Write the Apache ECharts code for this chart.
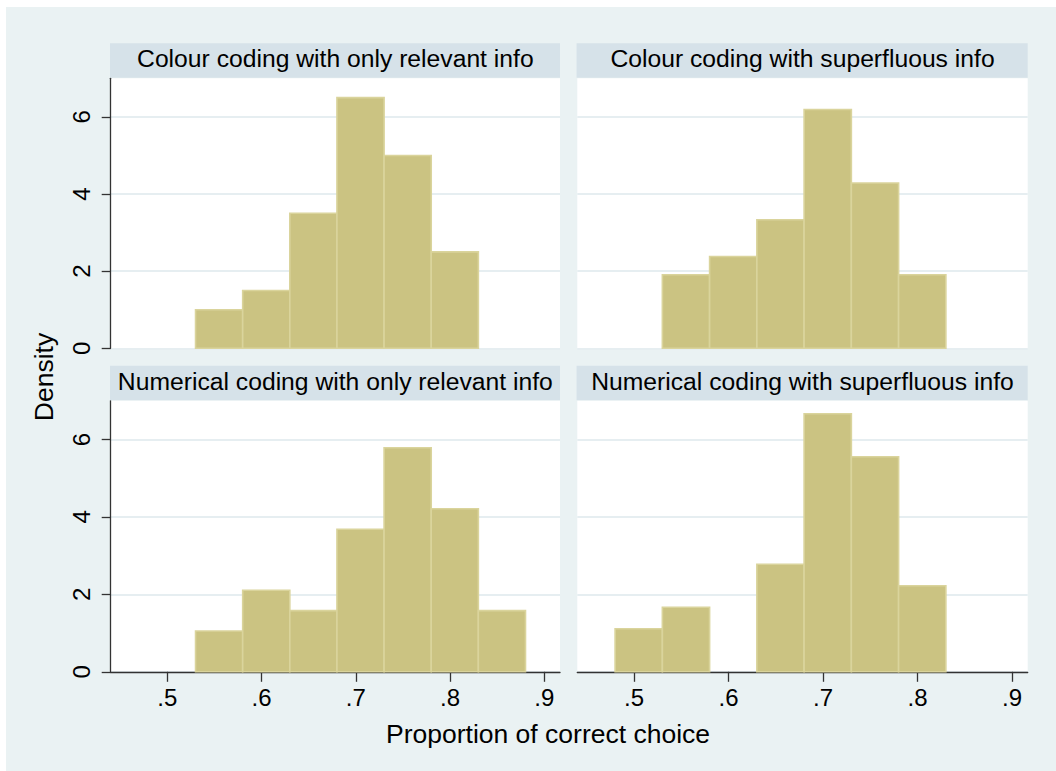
<!DOCTYPE html>
<html>
<head>
<meta charset="utf-8">
<script src="https://cdn.jsdelivr.net/npm/echarts@6/dist/echarts.min.js"></script>
<style>
  html, body { margin: 0; padding: 0; background: #fff; }
  #chart { width: 1056px; height: 771px; }
</style>
</head>
<body>
<div id="chart"></div>
<script>
// histogram data (density), bin width .05
const binWidth = 0.05;
const panelTitles = [
  "Colour coding with only relevant info",
  "Colour coding with superfluous info",
  "Numerical coding with only relevant info",
  "Numerical coding with superfluous info"
];
const binStarts = [
  [0.53, 0.58, 0.63, 0.68, 0.73, 0.78],
  [0.53, 0.58, 0.63, 0.68, 0.73, 0.78],
  [0.53, 0.58, 0.63, 0.68, 0.73, 0.78, 0.83],
  [0.48, 0.53, 0.58, 0.63, 0.68, 0.73, 0.78]
];
const densities = [
  [1.0, 1.5, 3.5, 6.5, 5.0, 2.5],
  [1.905, 2.381, 3.333, 6.19, 4.286, 1.905],
  [1.053, 2.105, 1.579, 3.684, 5.789, 4.211, 1.579],
  [1.111, 1.667, 0, 2.778, 6.667, 5.556, 2.222]
];
const xTicks = [0.5, 0.6, 0.7, 0.8, 0.9];
const yTicks = [0, 2, 4, 6];
const xTitle = "Proportion of correct choice";
const yTitle = "Density";

const FONT = "'Liberation Sans', Arial, Helvetica, sans-serif";
const bgColor = "#eaf2f3";
const stripColor = "#d6e2e9";
const barFill = "#cbc382";
const barLine = "#dad49c";
const gridColor = "#e6eef1";
const axisColor = "#333";

// panel boxes (plot area) and strips
const colLeft = [110.7, 577.3];
const colWidth = [449.3, 450.4];
const rowTop = [78.3, 400.8];
const rowHeight = [270, 271];
const stripH = 34.4;

const isTick = (v, list) => list.some(t => Math.abs(t - v) < 1e-6);

const myChart = echarts.init(document.getElementById("chart"), null, { renderer: "svg" });

let grids = [], xAxes = [], yAxes = [], series = [], graphics = [];

graphics.push({
  type: "rect", silent: true, z: -10,
  shape: { x: 6, y: 7, width: 1050, height: 764 },
  style: { fill: bgColor }
});

for (let i = 0; i < 4; i++) {
  const row = Math.floor(i / 2), col = i % 2;
  const left = colLeft[col], top = rowTop[row];
  const w = colWidth[col], h = rowHeight[row];
  grids.push({ left: left, top: top, width: w, height: h, backgroundColor: "#fff", show: true, borderWidth: 0 });

  // strip title
  graphics.push({
    type: "rect", silent: true, z: -5,
    shape: { x: left - 0.7, y: top - stripH - 0.6, width: w + 0.7, height: stripH },
    style: { fill: stripColor }
  });
  graphics.push({
    type: "text", silent: true, z: 5,
    x: left + w / 2, y: top - stripH / 2 - 2.4,
    style: {
      text: panelTitles[i], fill: "#000", font: "24.7px " + FONT,
      align: "center", verticalAlign: "middle"
    }
  });

  const bottomRow = row === 1;
  // interval .02 so that min .44 is a multiple; only .5 ... .9 get a label
  xAxes.push({
    gridIndex: i, type: "value", min: 0.44, max: 0.9166, interval: 0.02,
    axisLine: { show: bottomRow, onZero: false, lineStyle: { color: axisColor, width: 1.3 } },
    axisTick: { show: bottomRow, length: 10, customValues: xTicks, lineStyle: { color: axisColor, width: 1.3 } },
    axisLabel: {
      show: bottomRow, margin: 14, showMinLabel: true, showMaxLabel: true,
      color: "#000", fontSize: 24, fontFamily: FONT,
      formatter: v => isTick(v, xTicks) ? String(+v.toFixed(1)).replace(/^0/, "") : ""
    },
    splitLine: { show: false }
  });

  const leftCol = col === 0;
  yAxes.push({
    gridIndex: i, type: "value", min: 0, max: 7, interval: 2,
    axisLine: { show: leftCol, lineStyle: { color: axisColor, width: 1.3 } },
    axisTick: { show: leftCol, length: 9, customValues: yTicks, lineStyle: { color: axisColor, width: 1.3 } },
    axisLabel: {
      show: leftCol, rotate: 90, margin: 17,
      color: "#000", fontSize: 24, fontFamily: FONT,
      formatter: v => isTick(v, yTicks) ? String(v) : ""
    },
    splitLine: { show: true, lineStyle: { color: gridColor, width: 2 } }
  });

  const data = binStarts[i].map((s, k) => [s, +(s + binWidth).toFixed(2), densities[i][k]]);
  series.push({
    type: "custom",
    xAxisIndex: i, yAxisIndex: i,
    silent: true,
    encode: { x: [0, 1], y: 2 },
    data: data,
    renderItem: function (params, api) {
      const hgt = api.value(2);
      if (!hgt) return null;
      const p0 = api.coord([api.value(0), hgt]);
      const p1 = api.coord([api.value(1), 0]);
      return {
        type: "rect",
        shape: { x: p0[0], y: p0[1], width: p1[0] - p0[0], height: p1[1] - p0[1] },
        style: { fill: barFill, stroke: barLine, lineWidth: 1.6 }
      };
    }
  });
}

// shared axis titles
graphics.push({
  type: "text", silent: true,
  x: 44, y: 377, rotation: Math.PI / 2,
  style: { text: yTitle, fill: "#000", font: "26.5px " + FONT, align: "center", verticalAlign: "middle" }
});
graphics.push({
  type: "text", silent: true,
  x: 548, y: 734,
  style: { text: xTitle, fill: "#000", font: "26.5px " + FONT, align: "center", verticalAlign: "middle" }
});

let option = {
  backgroundColor: "#fff",
  animation: false,
  grid: grids,
  xAxis: xAxes,
  yAxis: yAxes,
  series: series,
  graphic: graphics
};
myChart.setOption(option);
</script>
</body>
</html>
